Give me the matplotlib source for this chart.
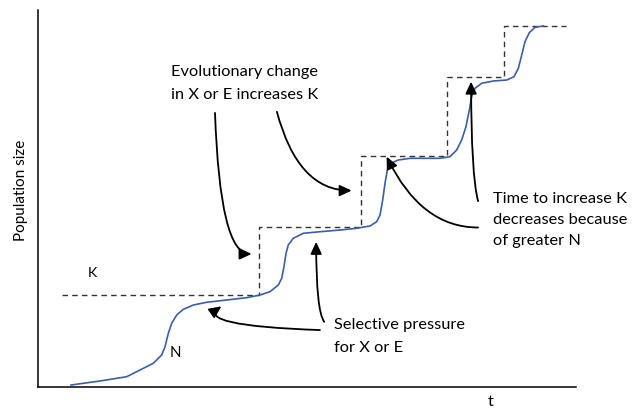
import matplotlib
matplotlib.use("Agg")
import matplotlib.pyplot as plt

plt.rcParams['font.family'] = ['Lato', 'DejaVu Sans']

# carrying capacity K (dashed steps)
k_t = [4.5, 41.1, 41.1, 60.0, 60.0, 76.0, 76.0, 86.6, 86.6, 98.1]
k_val = [24.4, 24.4, 42.4, 42.4, 61.3, 61.3, 82.2, 82.2, 95.8, 95.8]

# population size N
n_t = [6.13, 11.52, 16.49, 18.96, 21.43, 22.99, 23.61, 24.22, 24.85, 25.78,
       27.01, 28.87, 31.36, 35.07, 38.79, 41.26, 43.12, 44.67, 45.30, 45.72,
       46.10, 46.52, 47.45, 49.31, 52.42, 56.13, 59.24, 61.71, 62.96, 63.57,
       64.07, 64.50, 64.93, 65.56, 66.97, 69.14, 74.72, 76.58, 77.82, 78.75,
       79.55, 80.17, 80.61, 81.23, 82.47, 84.63, 87.12, 88.48, 89.28, 89.91,
       90.52, 91.32, 92.38, 93.92]
n_val = [0.53, 1.59, 2.73, 4.51, 6.29, 8.49, 10.69, 14.24, 16.90, 19.10,
         20.61, 21.75, 22.47, 23.08, 23.69, 24.40, 25.28, 27.06, 28.83, 31.91,
         35.46, 37.67, 39.44, 40.77, 41.19, 41.64, 42.10, 42.71, 43.85, 45.62,
         49.60, 54.03, 57.56, 59.34, 60.21, 60.66, 60.66, 61.09, 62.86, 65.52,
         69.05, 73.47, 77.00, 79.23, 80.56, 81.17, 81.43, 82.31, 84.54, 88.06,
         91.59, 93.98, 95.41, 95.76]

fig = plt.figure(figsize=(6.38, 4.11), dpi=100)
ax = fig.add_axes([38/638, 24/411, 538/638, 377/411])
ax.set_xlim(0, 100)
ax.set_ylim(0, 100)

ax.plot(k_t, k_val, color='#333333', lw=1.0, dashes=(4, 3))
ax.plot(n_t, n_val, color='#3a5ea8', lw=1.2, solid_joinstyle='round')

for s in ['top', 'right']:
    ax.spines[s].set_visible(False)
for s in ['left', 'bottom']:
    ax.spines[s].set_linewidth(1.1)
ax.set_xticks([])
ax.set_yticks([])

fs = 11.8
ax.text(10.2, 30.2, 'K', fontsize=fs - 1.5, ha='center', va='center')
ax.text(25.5, 9.0, 'N', fontsize=fs - 1, ha='center', va='center')
ax.text(38.4, 80.4, 'Evolutionary change\nin X or E increases K', fontsize=fs,
        ha='center', va='center', linespacing=1.8)
ax.text(55.0, 13.4, 'Selective pressure\nfor X or E', fontsize=fs,
        ha='left', va='center', linespacing=1.8)
ax.text(84.6, 44.3, 'Time to increase K\ndecreases because\nof greater N',
        fontsize=fs, ha='left', va='center', linespacing=1.65)
ax.text(84.1, -4.0, 't', fontsize=fs, ha='center', va='center', clip_on=False)
fig.text(21/638, 1 - 190/411, 'Population size', fontsize=fs - 0.8,
         rotation=90, ha='center', va='center')

arrow = dict(arrowstyle='-|>,head_length=0.6,head_width=0.28', color='black',
             lw=1.3, mutation_scale=12, shrinkA=0, shrinkB=0)

def note(tip, start, conn):
    ax.annotate('', xy=tip, xytext=start,
                arrowprops=dict(arrow, connectionstyle=conn))

note((39.7, 35.3), (32.9, 72.7), 'angle3,angleA=-88,angleB=0')
note((58.3, 52.1), (44.4, 73.0), 'angle3,angleA=-75,angleB=0')
note((34.1, 21.4), (52.4, 15.1), 'angle3,angleA=178,angleB=35')
note((51.7, 38.5), (53.2, 17.3), 'angle3,angleA=127,angleB=90')
note((80.5, 81.0), (81.8, 49.3), 'angle3,angleA=105,angleB=90')
note((64.8, 61.1), (81.8, 42.3), 'angle3,angleA=180,angleB=116')

fig.savefig('out.png', dpi=100)
